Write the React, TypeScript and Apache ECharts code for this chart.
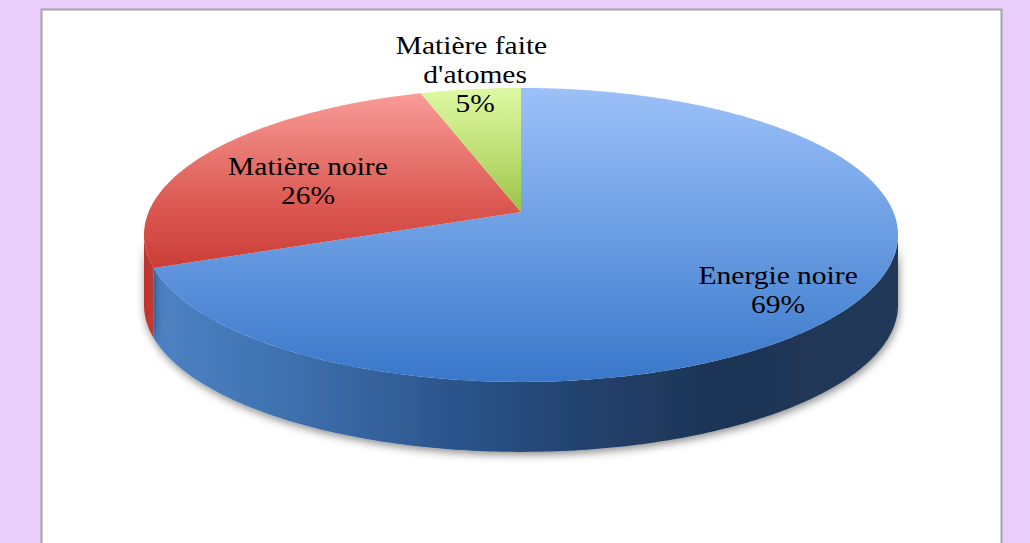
import React, { useEffect, useRef } from 'react';
import * as echarts from 'echarts';

// ---- data ----
const categories = ['Energie noire', 'Matière noire', "Matière faite d'atomes"];
const values = [69, 26, 5];

// ---- label placement (relative radius / angle shift in degrees) ----
const labelRadius = [0.81, 0.633, 1.14];
const labelAngleShift = [4, -4.5, 1.7];

// ---- pie geometry (perspective projection of a tilted disk) ----
const CX = 521;
const CY = 212;
const RX = 372.4;
const RY = 143.4;
const K = 0.156;
const DEPTH = 70;

const total = values.reduce((a, b) => a + b, 0);
const starts: number[] = [];
{
  let acc = 0;
  for (const v of values) {
    starts.push((acc / total) * 360);
    acc += v;
  }
}

function proj(deg: number, r: number): number[] {
  const a = (deg * Math.PI) / 180;
  const u = r * Math.sin(a);
  const v = r * Math.cos(a);
  const s = 1 / (1 + K * v);
  return [CX + RX * u * s, CY - RY * v * s];
}

const SIDE_A = 90 + (Math.asin(K) * 180) / Math.PI;
const SIDE_B = 270 - (Math.asin(K) * 180) / Math.PI;

function arcPoints(a0: number, a1: number): number[][] {
  const pts: number[][] = [];
  const n = Math.max(2, Math.ceil(Math.abs(a1 - a0) / 0.75));
  for (let i = 0; i <= n; i++) {
    pts.push(proj(a0 + ((a1 - a0) * i) / n, 1));
  }
  return pts;
}

const G = echarts.graphic;

function topFill(i: number) {
  if (i === 0)
    return new G.LinearGradient(0, 88, 0, 382, [
      { offset: 0, color: '#9DC1F8' },
      { offset: 0.5, color: '#6A9DE2' },
      { offset: 1, color: '#3977CA' },
    ], true);
  if (i === 1)
    return new G.LinearGradient(0, 92, 0, 272, [
      { offset: 0, color: '#F99C98' },
      { offset: 0.6, color: '#DC5B54' },
      { offset: 1, color: '#C93C35' },
    ], true);
  return new G.LinearGradient(0, 88, 0, 212, [
    { offset: 0, color: '#DEF9A4' },
    { offset: 0.6, color: '#B9DC6E' },
    { offset: 1, color: '#9CC246' },
  ], true);
}

function sideFill(i: number) {
  if (i === 0)
    return new G.LinearGradient(150, 0, 898, 0, [
      { offset: 0, color: '#4E83C5' },
      { offset: 0.2, color: '#3D6FAC' },
      { offset: 0.4, color: '#2C558C' },
      { offset: 0.6, color: '#22406A' },
      { offset: 0.75, color: '#1E3556' },
      { offset: 1, color: '#223959' },
    ], true);
  if (i === 1)
    return new G.LinearGradient(140, 0, 160, 0, [
      { offset: 0, color: '#B8342D' },
      { offset: 1, color: '#C93A33' },
    ], true);
  return '#8FB040';
}

export default function App() {
  const ref = useRef<HTMLDivElement>(null);

  useEffect(() => {
    if (!ref.current) return;
    const chart = echarts.init(ref.current, undefined, { renderer: 'svg' });

    const renderItem = (params: any, api: any) => {
      const i = params.dataIndex;
      const a0 = starts[i];
      const a1 = a0 + (values[i] / total) * 360;
      const children: any[] = [];

      // visible outer side wall
      const s0 = Math.max(a0, SIDE_A);
      const s1 = Math.min(a1, SIDE_B);
      if (s1 > s0) {
        const rim = arcPoints(s0, s1);
        const bottom = rim.map((p) => [p[0], p[1] + DEPTH]).reverse();
        children.push({
          type: 'polygon',
          z2: 1,
          shape: { points: rim.concat(bottom) },
          style: {
            fill: sideFill(i),
            shadowBlur: 8,
            shadowColor: 'rgba(0,0,0,0.45)',
            shadowOffsetX: 1,
            shadowOffsetY: 3,
          },
        });
      }

      // top face
      const topPts = [[CX, CY]].concat(arcPoints(a0, a1));
      children.push({
        type: 'polygon',
        z2: 5,
        shape: { points: topPts },
        style: { fill: topFill(i) },
      });

      // label
      const mid = (a0 + a1) / 2 + labelAngleShift[i];
      const lp = proj(mid, labelRadius[i]);
      const pct = Math.round((values[i] / total) * 100) + '%';
      children.push({
        type: 'text',
        z2: 20,
        x: lp[0],
        y: lp[1],
        scaleX: 1.135,
        scaleY: 1,
        style: {
          text: categories[i] + '\n' + pct,
          x: 0,
          y: 0,
          fill: '#000000',
          fontFamily: 'Liberation Serif',
          fontSize: 26,
          fontWeight: 'normal',
          align: 'center',
          verticalAlign: 'middle',
          lineHeight: 29,
          width: 170,
          overflow: 'break',
        },
      });

      return { type: 'group', children };
    };

    chart.setOption({
      animation: false,
      backgroundColor: '#E9CDFB',
      graphic: [
        {
          type: 'rect',
          z: -10,
          shape: { x: 41.5, y: 9.5, width: 960, height: 560 },
          style: { fill: '#FFFFFF', stroke: '#A3A3A3', lineWidth: 2 },
        },
      ],
      series: [
        {
          type: 'custom',
          coordinateSystem: 'none',
          renderItem,
          data: values.map((v, i) => ({ value: v, name: categories[i] })),
        },
      ],
    });

    return () => chart.dispose();
  }, []);

  return (
    <div
      ref={ref}
      style={{ position: 'fixed', left: 0, top: 0, width: 1030, height: 543 }}
    />
  );
}
